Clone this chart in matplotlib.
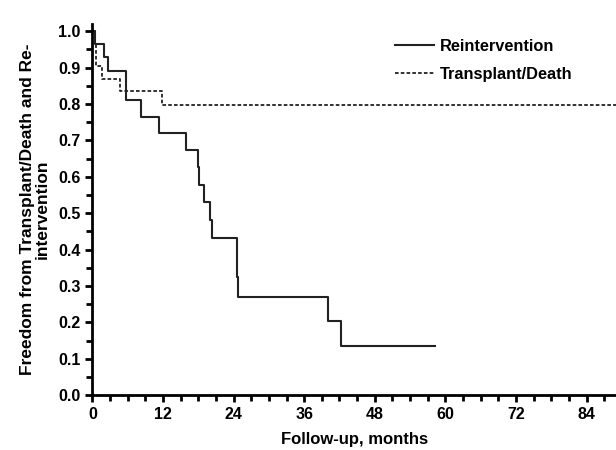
import matplotlib.pyplot as plt
from matplotlib.ticker import MultipleLocator

plt.rcParams['font.family'] = ['Liberation Sans', 'DejaVu Sans']
plt.rcParams['font.weight'] = 'bold'

# Kaplan-Meier step data
reint_t = [0, 0.45, 1.9, 2.7, 5.7, 8.3, 11.4, 15.9, 17.9, 18.1, 19.0, 20.0, 20.4, 24.6, 24.7, 40.1, 42.2, 58.3]
reint_s = [1.0, 0.966, 0.93, 0.89, 0.81, 0.765, 0.72, 0.673, 0.627, 0.577, 0.531, 0.481, 0.433, 0.325, 0.27, 0.204, 0.135, 0.135]

death_t = [0, 0.45, 0.6, 1.6, 4.7, 11.9, 95]
death_s = [1.0, 0.966, 0.905, 0.868, 0.835, 0.797, 0.797]

fig = plt.figure(figsize=(6.16, 4.5), dpi=100)
ax = fig.add_axes([0.15, 0.122, 0.85, 0.825])

ax.step(reint_t, reint_s, where='post', color='#222222', linewidth=1.5, label='Reintervention')
ax.step(death_t, death_s, where='post', color='#222222', linewidth=1.3,
        linestyle=(0, (2, 1.2)), label='Transplant/Death')

ax.set_xlim(0, 89)
ax.set_ylim(0, 1.02)
ax.xaxis.set_major_locator(MultipleLocator(12))
ax.xaxis.set_minor_locator(MultipleLocator(3))
ax.yaxis.set_major_locator(MultipleLocator(0.1))
ax.yaxis.set_minor_locator(MultipleLocator(0.05))
ax.yaxis.set_major_formatter(plt.FuncFormatter(lambda v, p: f'{v:.1f}'))

for s in ['top', 'right']:
    ax.spines[s].set_visible(False)
for s in ['left', 'bottom']:
    ax.spines[s].set_linewidth(2)
ax.tick_params(which='major', length=5, width=2, labelsize=11.5)
ax.tick_params(which='minor', length=4, width=2)

ax.set_xlabel('Follow-up, months', fontsize=12, fontweight='bold', labelpad=7)
ax.set_ylabel('Freedom from Transplant/Death and Re-\nintervention', fontsize=12.5,
              fontweight='bold', labelpad=6, linespacing=0.95)

ax.legend(loc='upper left', bbox_to_anchor=(0.55, 1.0), frameon=False, fontsize=11.8,
          handlelength=2.4, handletextpad=0.3, labelspacing=0.8)

fig.savefig('out.png', dpi=100)
